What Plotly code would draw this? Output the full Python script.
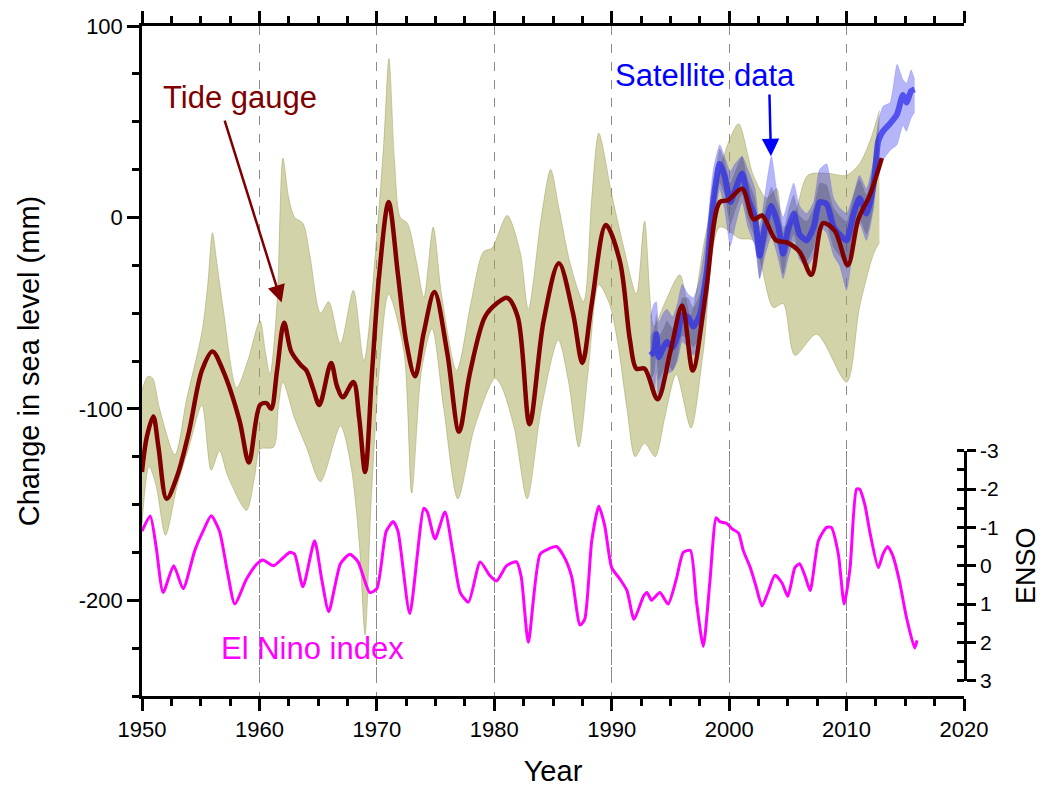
import plotly.graph_objects as go

# ---------------- data ----------------
# Tide gauge reconstruction (mm)
tg_years = [1950.0, 1950.4, 1950.96, 1951.4, 1952.1, 1953.0, 1954.0, 1955.1, 1956.0, 1956.9,
            1958.3, 1959.1, 1960.05, 1960.6, 1961.0, 1961.5, 1962.1, 1962.7, 1963.5, 1964.0,
            1964.6, 1965.1, 1966.1, 1966.6, 1967.1, 1968.0, 1968.5, 1969.0, 1969.6, 1970.2,
            1971.0, 1971.8, 1972.5, 1973.25, 1974.0, 1974.9, 1976.0, 1977.0, 1977.9, 1979.2,
            1980.2, 1981.1, 1982.0, 1983.0, 1984.2, 1985.5, 1986.7, 1987.5, 1988.3, 1989.5,
            1990.7, 1991.55, 1992.1, 1992.8, 1993.9, 1995.0, 1996.0, 1996.9, 1998.0, 1999.2,
            1999.9, 2001.1, 2002.1, 2002.8, 2004.0, 2004.9, 2006.0, 2007.0, 2008.0, 2009.0,
            2010.1, 2011.0, 2012.0, 2013.0]
tg_values = [-133, -115, -104, -120, -147, -135, -112, -80, -70, -80,
             -106, -128, -98, -97, -100, -80, -55, -70, -77, -80,
             -90, -98, -76, -88, -94, -86, -105, -133, -80, -30,
             8, -30, -65, -83, -60, -39, -71, -112, -82, -52,
             -45, -42, -52, -108, -54, -24, -50, -76, -45, -4,
             -23, -64, -79, -79, -95, -70, -46, -80, -40, 8,
             9, 15, -1, 1, -12, -13, -18, -30, -3, -7,
             -25, -1, 12, 31]

tg_upper_years = [1950.0, 1950.5, 1950.9, 1951.5, 1952.8, 1953.8, 1955.1, 1955.6, 1956.0, 1956.4,
                  1956.9, 1958.06, 1959.0, 1960.05, 1960.5, 1960.9, 1961.5, 1962.0, 1962.5, 1963.0,
                  1963.7, 1964.3, 1965.2, 1965.9, 1966.9, 1968.0, 1968.9, 1970.0, 1970.6, 1971.03,
                  1971.5, 1972.0, 1972.6, 1973.4, 1974.0, 1974.8, 1975.5, 1976.8, 1978.0, 1979.07,
                  1979.8, 1981.1, 1982.2, 1982.9, 1984.0, 1984.8, 1985.5, 1986.5, 1987.6, 1988.3,
                  1988.9, 1990.0, 1991.0, 1992.1, 1992.8, 1993.6, 1994.5, 1995.8, 1996.7, 1997.9,
                  1999.0, 2000.0, 2000.8, 2002.06, 2003.2, 2004.05, 2004.6, 2005.5, 2006.7, 2008.4,
                  2010.0, 2011.1, 2012.0, 2012.8]
tg_upper = [-90, -83, -84, -100, -124, -95, -60, -35, -8, -25,
            -47, -89, -75, -54, -70, -82, -45, 31, 10, 0,
            -3, -20, -50, -44, -66, -38, -75, -9, 40, 83,
            30, 0, -3, -24, -42, -5, -40, -80, -45, -18,
            -16, 1, -18, -48, 0, 25, 5, -25, -44, 10,
            44, 12, -15, -40, -2, -57, -45, -30, -52, -12,
            20, 40, 49, 22, 10, 15, -5, 0, 22, 23,
            22, 28, 40, 56]

tg_lower_years = [1950.0, 1950.6, 1951.2, 1952.0, 1953.0, 1954.0, 1955.1, 1955.9, 1956.6, 1957.3,
                  1958.9, 1959.6, 1960.05, 1961.2, 1961.6, 1962.0, 1963.0, 1964.0, 1965.2, 1966.9,
                  1967.8, 1968.5, 1969.0, 1969.5, 1970.2, 1971.0, 1972.3, 1972.97, 1973.8, 1974.7,
                  1975.7, 1976.9, 1978.3, 1980.06, 1980.6, 1981.7, 1982.8, 1984.0, 1985.45, 1986.3,
                  1987.2, 1988.0, 1988.9, 1989.8, 1990.5, 1991.3, 1992.0, 1992.8, 1993.7, 1994.5,
                  1995.5, 1996.75, 1997.8, 1999.2, 2000.9, 2002.06, 2003.75, 2004.6, 2005.6, 2007.45,
                  2010.0, 2011.1, 2012.3, 2012.8]
tg_lower = [-160, -130, -140, -166, -140, -120, -98, -132, -122, -135,
            -153, -135, -121, -120, -100, -86, -105, -120, -138, -109,
            -130, -170, -218, -150, -80, -40, -70, -144, -80, -58,
            -100, -147, -110, -84, -88, -110, -147, -100, -64, -85,
            -120, -80, -35, -45, -65, -100, -125, -118, -125, -105,
            -82, -110, -70, -5, -11, -12, -47, -45, -72, -61,
            -86, -47, -19, -13]

# Satellite altimetry (mm)
sat_years = [1993.3, 1993.6, 1993.8, 1994.0, 1994.4, 1994.7, 1995.2, 1995.6, 1996.0, 1996.5,
             1996.95, 1997.5, 1998.1, 1998.65, 1999.2, 1999.6, 2000.1, 2000.5, 2001.1, 2001.6,
             2002.2, 2002.6, 2003.05, 2003.6, 2004.2, 2004.6, 2005.0, 2005.5, 2006.0, 2006.6,
             2007.2, 2007.7, 2008.3, 2008.9, 2009.4, 2010.0, 2010.6, 2011.1, 2011.7, 2012.3,
             2012.7, 2013.1, 2013.7, 2014.3, 2014.8, 2015.1, 2015.5, 2015.8]
sat_values = [-72, -70, -61, -73, -68, -65, -68, -62, -51, -52,
              -57, -51, -28, 9, 28, 22, 8, 14, 23, 10,
              0, -20, -5, 6, -5, -19, -7, 2, -9, -12,
              -5, 8, 7, -5, -9, -12, 2, 10, 2, 17,
              40, 45, 49, 54, 64, 60, 66, 67]
sat_upper = [-52, -45, -44, -55, -50, -48, -52, -45, -35, -40,
             -42, -32, -8, 25, 38, 32, 24, 28, 32, 25,
             15, -5, 12, 32, 8, 0, 8, 18, 6, 2,
             8, 25, 28, 10, 5, 2, 12, 22, 15, 30,
             50, 58, 60, 80, 72, 70, 77, 72]
sat_lower = [-90, -92, -80, -96, -85, -82, -80, -75, -65, -68,
             -72, -66, -45, -8, 15, 5, -15, -5, 8, -5,
             -15, -32, -20, -10, -22, -32, -22, -12, -22, -26,
             -20, -5, -8, -20, -25, -38, -15, -3, -12, 5,
             28, 30, 35, 38, 48, 45, 52, 55]
# inner (darker) satellite band, 1993.3 - 2012.7
sat_inner_upper = [-62, -58, -50, -62, -58, -54, -58, -52, -42, -42,
                   -47, -40, -18, 18, 36, 30, 18, 24, 32, 20,
                   10, -8, 5, 16, 5, -8, 3, 12, 1, -2,
                   5, 18, 17, 5, 1, -2, 12, 20, 12, 27,
                   48]
sat_inner_lower = [-84, -82, -72, -85, -80, -76, -80, -73, -62, -63,
                   -68, -62, -40, -3, 18, 12, -4, 3, 12, -1,
                   -11, -32, -16, -5, -16, -30, -18, -9, -20, -23,
                   -16, -3, -4, -16, -20, -24, -9, -1, -9, 6,
                   30]

# El Nino index
enso_years = [1950.0, 1950.7, 1951.2, 1951.8, 1952.7, 1953.5, 1954.5, 1955.2, 1955.9, 1956.6,
              1957.3, 1957.9, 1958.9, 1959.8, 1960.3, 1961.2, 1962.0, 1962.6, 1963.0, 1963.7,
              1964.7, 1965.3, 1965.9, 1966.9, 1967.7, 1968.4, 1969.4, 1970.0, 1970.8, 1971.4,
              1971.8, 1972.8, 1974.0, 1974.3, 1974.95, 1975.8, 1976.5, 1977.1, 1977.8, 1978.8,
              1979.6, 1980.2, 1981.05, 1981.9, 1982.3, 1982.9, 1983.9, 1984.7, 1985.3, 1986.0,
              1986.6, 1987.3, 1987.7, 1988.3, 1988.9, 1989.4, 1990.0, 1990.7, 1991.3, 1991.9,
              1992.7, 1993.0, 1993.4, 1994.1, 1994.8, 1995.5, 1996.1, 1996.7, 1997.2, 1997.8,
              1998.35, 1998.9, 1999.2, 1999.8, 2000.3, 2000.8, 2001.2, 2001.8, 2002.3, 2002.8,
              2003.3, 2003.9, 2004.5, 2005.0, 2005.6, 2006.0, 2006.5, 2006.9, 2007.6, 2008.3,
              2008.7, 2009.3, 2009.8, 2010.3, 2010.85, 2011.1, 2011.55, 2012.0, 2012.7, 2013.1,
              2013.5, 2013.95, 2014.5, 2015.1, 2015.8, 2016.0]
enso_values = [-0.9, -1.3, -0.5, 0.7, 0.0, 0.6, -0.4, -0.9, -1.3, -0.9,
               0.2, 1.0, 0.35, -0.05, -0.15, 0.0, -0.2, -0.35, -0.3, 0.55,
               -0.65, 0.35, 1.2, -0.05, -0.3, -0.1, 0.7, 0.6, -0.9, -1.15,
               -0.9, 1.25, -1.5, -1.4, -0.7, -1.4, -0.3, 0.7, 0.95, -0.1,
               0.25, 0.4, 0.0, -0.1, 0.3, 2.0, -0.3, -0.45, -0.5, -0.2,
               0.3, 1.55, 1.4, -0.65, -1.55, -1.05, 0.05, 0.35, 0.65, 1.4,
               0.8, 0.7, 0.9, 0.7, 1.0, 0.35, -0.35, -0.4, 0.9, 2.1,
               0.45, -1.25, -1.15, -1.1, -0.95, -0.85, -0.4, 0.05, 0.55, 1.05,
               0.7, 0.25, 0.45, 0.8, 0.05, -0.05, 0.3, 0.65, -0.65, -1.0,
               -1.0, -0.3, 1.0, 0.05, -2.0, -2.0, -1.6, -0.85, 0.05, -0.3,
               -0.5, -0.25, 0.4, 1.35, 2.15, 1.95]

x_tickvals = [1950, 1960, 1970, 1980, 1990, 2000, 2010, 2020]
x_ticktext = ["1950", "1960", "1970", "1980", "1990", "2000", "2010", "2020"]
y_tickvals = [-200, -100, 0, 100]
y_ticktext = ["-200", "-100", "0", "100"]
enso_tickvals = [-3, -2, -1, 0, 1, 2, 3]
enso_ticktext = ["-3", "-2", "-1", "0", "1", "2", "3"]

# ---------------- styles ----------------
FONT = "Liberation Sans, Arial, sans-serif"
DARKRED = "#800000"
KHAKI_FILL = "rgba(168,168,84,0.5)"
KHAKI_EDGE = "rgba(150,150,80,0.55)"
BLUE = "#0000FF"
MAGENTA = "#FF00FF"

fig = go.Figure()

# tide gauge uncertainty band
fig.add_trace(go.Scatter(x=tg_upper_years, y=tg_upper, mode="lines",
                         line=dict(color=KHAKI_EDGE, width=0.8, shape="spline", smoothing=0.8),
                         hoverinfo="skip", showlegend=False))
fig.add_trace(go.Scatter(x=tg_lower_years, y=tg_lower, mode="lines", fill="tonexty",
                         fillcolor=KHAKI_FILL,
                         line=dict(color=KHAKI_EDGE, width=0.8, shape="spline", smoothing=0.8),
                         hoverinfo="skip", showlegend=False))

# satellite outer band
fig.add_trace(go.Scatter(x=sat_years, y=sat_upper, mode="lines",
                         line=dict(color="rgba(60,60,255,0.3)", width=0.6, shape="spline", smoothing=0.5),
                         hoverinfo="skip", showlegend=False))
fig.add_trace(go.Scatter(x=sat_years, y=sat_lower, mode="lines", fill="tonexty",
                         fillcolor="rgba(50,50,240,0.36)",
                         line=dict(color="rgba(60,60,255,0.3)", width=0.6, shape="spline", smoothing=0.5),
                         hoverinfo="skip", showlegend=False))
# satellite inner band
n_inner = len(sat_inner_upper)
fig.add_trace(go.Scatter(x=sat_years[:n_inner], y=sat_inner_upper, mode="lines",
                         line=dict(color="rgba(80,80,110,0.0)", width=0, shape="spline", smoothing=0.5),
                         hoverinfo="skip", showlegend=False))
fig.add_trace(go.Scatter(x=sat_years[:n_inner], y=sat_inner_lower, mode="lines", fill="tonexty",
                         fillcolor="rgba(70,70,100,0.35)",
                         line=dict(color="rgba(80,80,110,0.0)", width=0, shape="spline", smoothing=0.5),
                         hoverinfo="skip", showlegend=False))
# satellite line
fig.add_trace(go.Scatter(x=sat_years, y=sat_values, mode="lines",
                         line=dict(color="rgba(45,45,235,0.72)", width=6, shape="spline", smoothing=0.6),
                         hoverinfo="skip", showlegend=False))

# tide gauge line
fig.add_trace(go.Scatter(x=tg_years, y=tg_values, mode="lines",
                         line=dict(color=DARKRED, width=4.5, shape="spline", smoothing=0.9),
                         showlegend=False))

# ENSO
fig.add_trace(go.Scatter(x=enso_years, y=enso_values, mode="lines", yaxis="y2",
                         line=dict(color=MAGENTA, width=3, shape="spline", smoothing=0.6),
                         showlegend=False))

L, R, T, B = 142, 77, 26, 91
plot_h = 787 - T - B
d0 = (696 - 680.7) / plot_h
d1 = (696 - 450.7) / plot_h

fig.update_layout(
    width=1041, height=787,
    margin=dict(l=L, r=R, t=T, b=B),
    paper_bgcolor="white", plot_bgcolor="rgba(0,0,0,0)",
    font=dict(family=FONT, size=22, color="black"),
    showlegend=False,
    xaxis=dict(
        range=[1950, 2020], tickvals=x_tickvals, ticktext=x_ticktext,
        showline=True, linecolor="black", linewidth=2.5, mirror="ticks",
        ticks="outside", ticklen=12, tickwidth=2.5, tickcolor="black",
        minor=dict(dtick=2.5, tick0=1950, ticks="outside", ticklen=7, tickwidth=2.5,
                   tickcolor="black", showgrid=False),
        showgrid=True, gridcolor="#8a8a8a", gridwidth=1, griddash="dash",
        zeroline=False, tickfont=dict(size=22),
        title=dict(text="Year", font=dict(size=29), standoff=22),
        automargin=False,
    ),
    yaxis=dict(
        range=[-250, 100], tickvals=y_tickvals, ticktext=y_ticktext,
        showline=True, linecolor="black", linewidth=2.5, mirror=False,
        ticks="outside", ticklen=12, tickwidth=2.5, tickcolor="black",
        minor=dict(dtick=25, tick0=0, ticks="outside", ticklen=7, tickwidth=2.5,
                   tickcolor="black", showgrid=False),
        showgrid=False, zeroline=False, tickfont=dict(size=22),
        title=dict(text="Change in sea level (mm)", font=dict(size=29), standoff=31),
        automargin=False,
    ),
    yaxis2=dict(
        domain=[d0, d1], anchor="x", side="right",
        range=[3, -3], tickvals=enso_tickvals, ticktext=enso_ticktext,
        showline=True, linecolor="black", linewidth=2.5,
        ticks="outside", ticklen=9, tickwidth=2.5, tickcolor="black",
        minor=dict(dtick=0.5, tick0=0, ticks="inside", ticklen=7, tickwidth=2.5,
                   tickcolor="black", showgrid=False),
        showgrid=False, zeroline=False, tickfont=dict(size=21),
        title=dict(text="ENSO", font=dict(size=27), standoff=22),
        automargin=False,
    ),
)

fig.add_annotation(x=1958.35, y=62.4, xref="x", yref="y", text="Tide gauge",
                   showarrow=False, font=dict(size=31, color=DARKRED))
fig.add_annotation(x=1961.89, y=-44.5, ax=1957.0, ay=51.3, xref="x", yref="y",
                   axref="x", ayref="y", text="", showarrow=True, arrowhead=2,
                   arrowsize=1.4, arrowwidth=2.5, arrowcolor=DARKRED)
fig.add_annotation(x=1997.95, y=73.9, xref="x", yref="y", text="Satellite data",
                   showarrow=False, font=dict(size=31, color=BLUE))
fig.add_annotation(x=2003.56, y=32, ax=2003.43, ay=65, xref="x", yref="y",
                   axref="x", ayref="y", text="", showarrow=True, arrowhead=2,
                   arrowsize=1.4, arrowwidth=2.5, arrowcolor=BLUE)
fig.add_annotation(x=1964.5, y=2.15, xref="x", yref="y2", text="El Nino index",
                   showarrow=False, font=dict(size=31, color=MAGENTA))

fig.write_html("out.html")
